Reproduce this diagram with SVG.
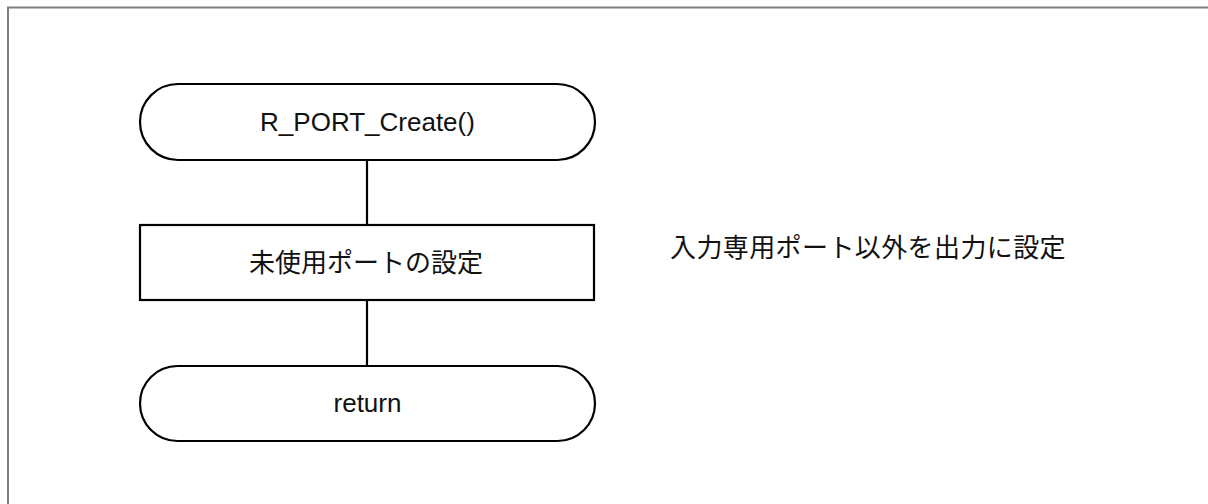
<svg xmlns="http://www.w3.org/2000/svg" width="1208" height="504" viewBox="0 0 1208 504">
  <style>
    .shape { fill: #ffffff; stroke: #000000; stroke-width: 2.2; }
    .conn { stroke: #000000; stroke-width: 2.2; fill: none; }
    .lbl { font-family: "Liberation Sans", Arial, sans-serif; font-size: 26px; fill: #111111; text-anchor: middle; }
    .jp { font-family: "Noto Sans CJK JP", "Noto Sans CJK SC", sans-serif; font-size: 26px; fill: #111111; }
  </style>
  <rect width="1208" height="504" fill="#ffffff"/>
  <path d="M8,504 V7.5 H1208" fill="none" stroke="#7f7f7f" stroke-width="2"/>
  <g id="connectors">
    <line class="conn" x1="367" y1="160" x2="367" y2="225"/>
    <line class="conn" x1="367" y1="300" x2="367" y2="366"/>
  </g>
  <g id="start">
    <rect class="shape" x="140" y="84" width="455" height="76" rx="38" ry="38"/>
    <text class="lbl" x="367.5" y="131">R_PORT_Create()</text>
  </g>
  <g id="process">
    <rect class="shape" x="140" y="225" width="454" height="75"/>
    <text class="jp" x="366" y="272" text-anchor="middle">未使用ポートの設定</text>
  </g>
  <g id="end">
    <rect class="shape" x="140" y="366" width="455" height="75" rx="37.5" ry="37.5"/>
    <text class="lbl" x="367.5" y="412">return</text>
  </g>
  <g id="note">
    <text class="jp" x="670" y="257" letter-spacing="0.4">入力専用ポート以外を出力に設定</text>
  </g>
</svg>
